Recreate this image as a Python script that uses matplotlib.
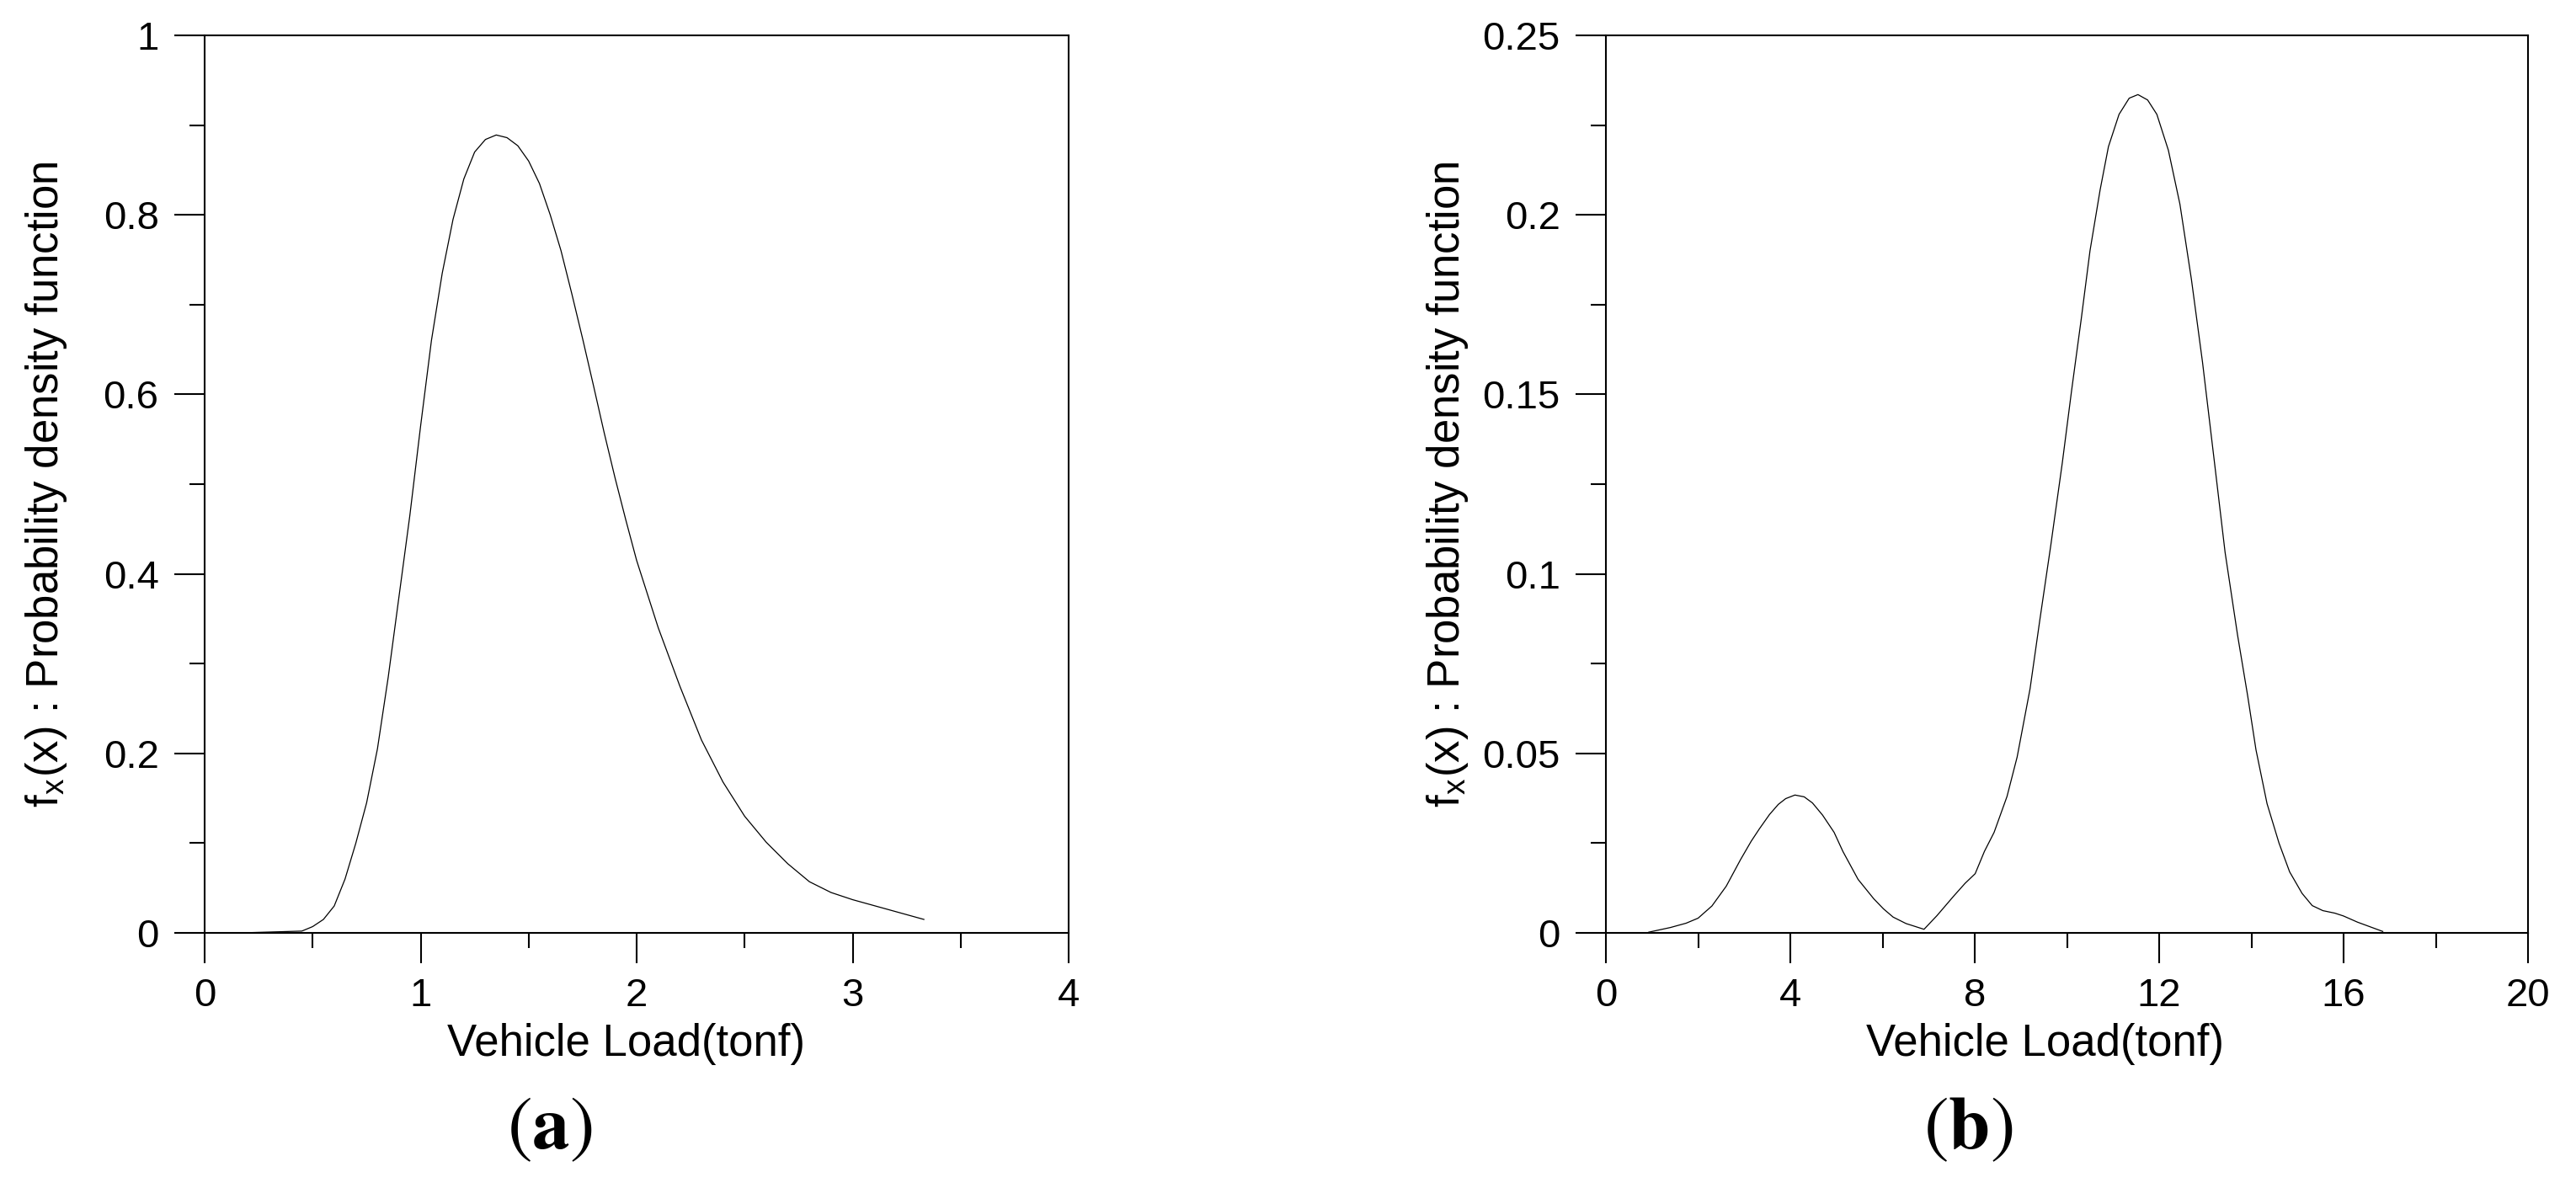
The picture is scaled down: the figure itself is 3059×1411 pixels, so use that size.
import matplotlib
matplotlib.use("Agg")
import matplotlib.pyplot as plt
from matplotlib.ticker import MultipleLocator, FuncFormatter

plt.rcParams['font.family'] = ['Liberation Sans', 'DejaVu Sans']
plt.rcParams['mathtext.fontset'] = 'stix'

# panel (a) - light vehicles
load_a = [0.17, 0.45, 0.50, 0.55, 0.60, 0.65, 0.70, 0.75, 0.80, 0.85, 0.90, 0.95,
          1.00, 1.05, 1.10, 1.15, 1.20, 1.25, 1.30, 1.35, 1.40, 1.45, 1.50, 1.55,
          1.60, 1.65, 1.70, 1.75, 1.80, 1.85, 1.90, 1.95, 2.00, 2.10, 2.20, 2.30,
          2.40, 2.50, 2.60, 2.70, 2.80, 2.90, 3.00, 3.33]
pdf_a = [0.0, 0.002, 0.007, 0.015, 0.030, 0.060, 0.100, 0.145, 0.205, 0.285, 0.375, 0.465,
         0.565, 0.660, 0.735, 0.795, 0.840, 0.870, 0.884, 0.889, 0.886, 0.877, 0.860, 0.835,
         0.800, 0.760, 0.712, 0.662, 0.610, 0.557, 0.507, 0.460, 0.415, 0.340, 0.275, 0.215,
         0.168, 0.130, 0.101, 0.077, 0.057, 0.045, 0.037, 0.015]

# panel (b) - heavy vehicles
load_b = [0.93, 1.40, 1.74, 2.00, 2.30, 2.61, 2.92, 3.15, 3.33, 3.55, 3.74, 3.90,
          4.10, 4.30, 4.48, 4.70, 4.95, 5.14, 5.47, 5.81, 6.02, 6.23, 6.51, 6.90,
          7.18, 7.54, 7.79, 8.01, 8.21, 8.42, 8.70, 8.92, 9.20, 9.41, 9.65, 9.90,
          10.10, 10.31, 10.50, 10.72, 10.90, 11.13, 11.35, 11.54, 11.75, 11.95, 12.20,
          12.45, 12.70, 12.94, 13.20, 13.43, 13.70, 13.92, 14.10, 14.34, 14.60, 14.83,
          15.10, 15.32, 15.55, 15.81, 16.00, 16.30, 16.85]
pdf_b = [0.0002, 0.0015, 0.0027, 0.0041, 0.0075, 0.013, 0.0204, 0.0255, 0.0290, 0.0330, 0.0358, 0.0374,
         0.0384, 0.0379, 0.0362, 0.0328, 0.0280, 0.0227, 0.0149, 0.0095, 0.0067, 0.0044, 0.0026, 0.0010,
         0.0048, 0.0102, 0.0138, 0.0165, 0.0227, 0.0280, 0.0380, 0.0490, 0.0680, 0.0870, 0.1080, 0.1310,
         0.1510, 0.1710, 0.1900, 0.2070, 0.2190, 0.2280, 0.2325, 0.2335, 0.2320, 0.2280, 0.2180,
         0.2030, 0.1820, 0.1590, 0.1310, 0.1060, 0.0830, 0.0660, 0.0510, 0.0360, 0.0250, 0.0170,
         0.0110, 0.0076, 0.0062, 0.0055, 0.0047, 0.0030, 0.0004]

W, H = 3059, 1411
fig = plt.figure(figsize=(W / 200, H / 200), dpi=200)
ax1 = fig.add_axes([243 / W, 1 - 1108 / H, 1026 / W, 1066 / H])
ax2 = fig.add_axes([1907 / W, 1 - 1108 / H, 1095 / W, 1066 / H])

fmt = FuncFormatter(lambda v, p: '{:g}'.format(round(v, 4)))

def style(ax, xmax, xmaj, xmin, ymax, ymaj, ymin):
    ax.set_xlim(0, xmax)
    ax.set_ylim(0, ymax)
    ax.xaxis.set_major_locator(MultipleLocator(xmaj))
    ax.xaxis.set_minor_locator(MultipleLocator(xmin))
    ax.yaxis.set_major_locator(MultipleLocator(ymaj))
    ax.yaxis.set_minor_locator(MultipleLocator(ymin))
    ax.yaxis.set_major_formatter(fmt)
    ax.xaxis.set_major_formatter(fmt)
    ax.tick_params(which='both', direction='out', width=0.75, labelsize=17)
    ax.tick_params(which='major', length=12.8)
    ax.tick_params(which='minor', length=6.4)
    ax.tick_params(axis='x', pad=6.3)
    ax.tick_params(axis='y', pad=6.8)
    for s in ax.spines.values():
        s.set_linewidth(0.75)
    ax.set_xlabel('Vehicle Load(tonf)', fontsize=19)
    ax.set_ylabel(r'f$_\mathregular{x}$(x) : Probability density function', fontsize=19)

ax1.plot(load_a, pdf_a, color='black', lw=0.45)
style(ax1, 4, 1, 0.5, 1, 0.2, 0.1)
ax1.yaxis.set_label_coords(-0.157, 0.5)
ax1.xaxis.set_label_coords(0.488, -0.1)

ax2.plot(load_b, pdf_b, color='black', lw=0.45)
style(ax2, 20, 4, 2, 0.25, 0.05, 0.025)
ax2.yaxis.set_label_coords(-0.147, 0.5)
ax2.xaxis.set_label_coords(0.476, -0.1)

fig.text(653 / W, 1 - 1364 / H, r'$(\mathbf{a})$', fontsize=32, ha='center', va='baseline')
fig.text(2337 / W, 1 - 1364 / H, r'$(\mathbf{b})$', fontsize=32, ha='center', va='baseline')

fig.savefig('out.png', dpi=200)
